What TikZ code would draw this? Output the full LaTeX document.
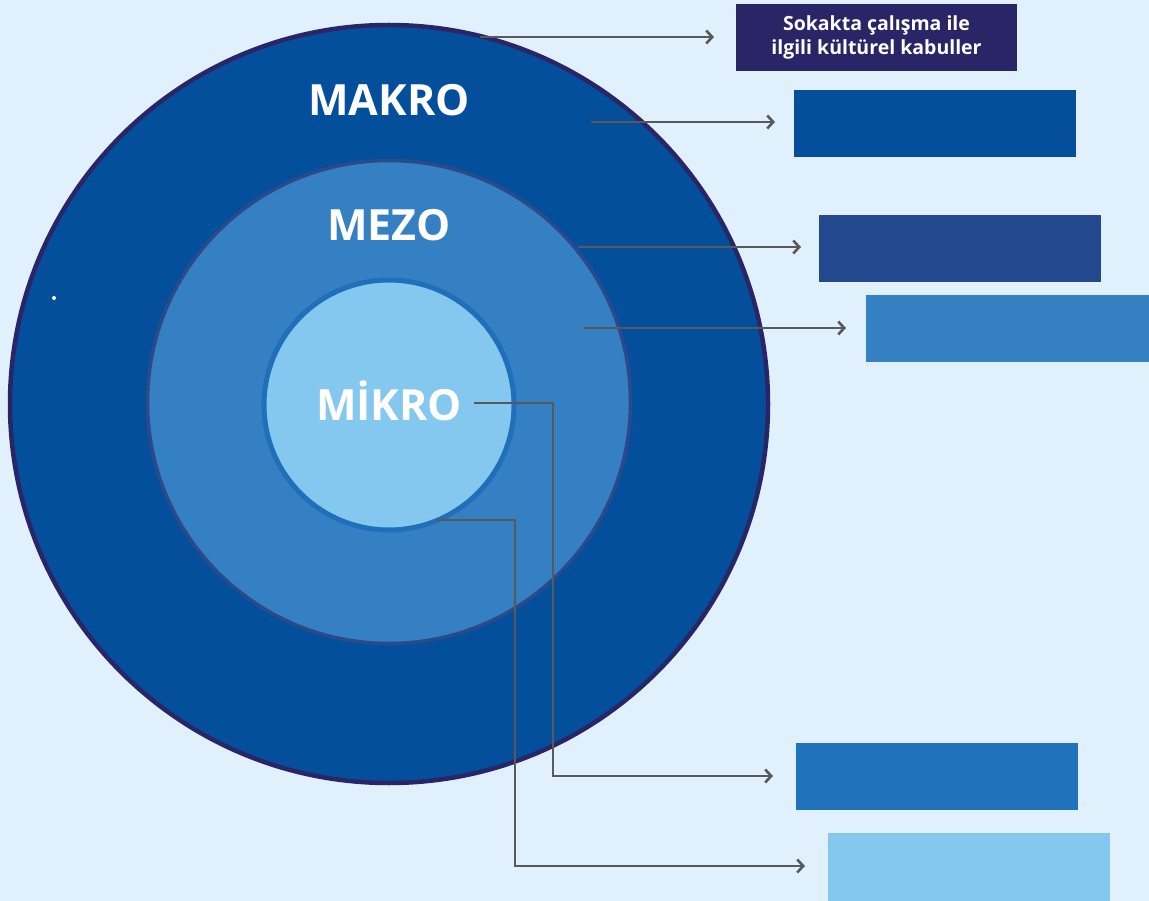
\documentclass[tikz,border=0pt]{standalone}
\usepackage{fontspec}
\setmainfont{Open Sans}
\usetikzlibrary{arrows.meta}
\definecolor{bg}{HTML}{E0F0FD}
\definecolor{outerfill}{HTML}{044F9C}
\definecolor{outerline}{HTML}{2A2566}
\definecolor{midfill}{HTML}{3580C3}
\definecolor{midline}{HTML}{2B4A8A}
\definecolor{innfill}{HTML}{84C7EF}
\definecolor{innline}{HTML}{1F6FB9}
\definecolor{boxA}{HTML}{2A2566}
\definecolor{boxB}{HTML}{044F9C}
\definecolor{boxC}{HTML}{234A8F}
\definecolor{boxD}{HTML}{3580C3}
\definecolor{boxE}{HTML}{1F72BB}
\definecolor{boxF}{HTML}{84C7EF}
\definecolor{arr}{HTML}{595959}
\tikzset{
  lvl/.style={text=white, font=\bfseries\fontsize{43}{47}\selectfont, inner sep=0pt},
  rbox/.style={minimum width=282pt, minimum height=67pt, inner sep=0pt, draw=none},
  conn/.style={draw=arr, line width=2.8pt, -{Straight Barb[length=6pt,width=13pt,line width=2.6pt]}},
}
\begin{document}
\begin{tikzpicture}[x=1pt,y=-1pt]
\fill[bg] (0,0) rectangle (1149,901);
\useasboundingbox (0,0) rectangle (1149,901);
% circles
\node[circle, fill=outerfill, draw=outerline, line width=4.5pt, minimum size=758pt, inner sep=0pt] (outer) at (389,404) {};
\node[circle, fill=midfill, draw=midline, line width=3.5pt, minimum size=483pt, inner sep=0pt] (mid) at (389,402) {};
\node[circle, fill=innfill, draw=innline, line width=5pt, minimum size=250pt, inner sep=0pt] (inner) at (389,405) {};
\fill[white] (54,298) circle (2pt);
% labels
\node[lvl] (makro) at (389,100) {MAKRO};
\node[lvl] (mezo) at (389,225) {MEZO};
\node[lvl] (mikro) at (389,401) {MİKRO};
% boxes
\node[rbox, fill=boxA, minimum width=281pt, text=white, font=\bfseries\fontsize{19.5}{24}\selectfont, align=center] (b1) at (876.5,37.5) {Sokakta çalışma ile\\ilgili kültürel kabuller};
\node[rbox, fill=boxB] (b2) at (935,123.5) {};
\node[rbox, fill=boxC] (b3) at (960,248.5) {};
\node[rbox, fill=boxD, minimum width=283pt] (b4) at (1007.5,328.5) {};
\node[rbox, fill=boxE] (b5) at (937,776.5) {};
\node[rbox, fill=boxF, minimum height=68pt] (b6) at (969,867) {};
% anchor coordinates
\coordinate (s1) at (480,37);
\coordinate (e1) at (714,37);
\coordinate (s2) at (591,122);
\coordinate (e2) at (775,122);
\coordinate (s3) at (578,247);
\coordinate (e3) at (801,247);
\coordinate (s4) at (583,328);
\coordinate (e4) at (846,328);
\coordinate (s5) at (474,403);
\coordinate (e5) at (773,776);
\coordinate (s6) at (436,520);
\coordinate (e6) at (805,866);
\draw[conn] (s1) -- (e1);
\draw[conn] (s2) -- (e2);
\draw[conn] (s3) -- (e3);
\draw[conn] (s4) -- (e4);
\draw[conn] (s5) -- (553,403) -- (553,776) -- (e5);
\draw[conn] (s6) -- (515,520) -- (515,866) -- (e6);
\end{tikzpicture}
\end{document}
